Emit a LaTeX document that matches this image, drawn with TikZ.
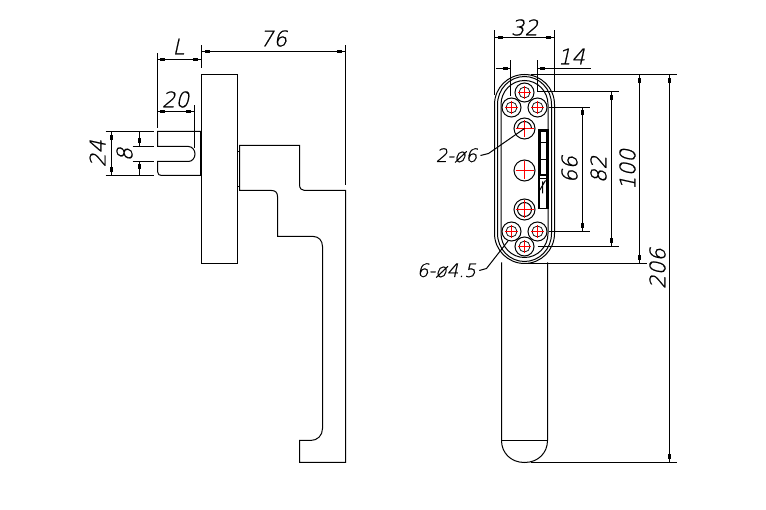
\documentclass[tikz,border=0pt]{standalone}
\usepackage{fontspec}
\newfontface\dimfont{DejaVu Sans ExtraLight}[FakeSlant=0.22,FakeBold=0.8]
\tikzset{
  ln/.style={draw=black,line width=1pt},
  thin ln/.style={draw=black,line width=1pt},
  dimtxt/.style={font=\fontsize{21.5}{22}\dimfont,inner sep=0pt},
  lbl/.style={font=\fontsize{18.5}{18.5}\dimfont,inner sep=0pt},
  redx/.style={draw=red,line width=1pt},
  hole/.style={draw=black,line width=1pt,circle,inner sep=0pt,fill=white},
  tick/.style={fill=black,inner sep=0pt,minimum width=3pt,minimum height=5pt,draw=none},
  tickh/.style={fill=black,inner sep=0pt,minimum width=5pt,minimum height=3pt,draw=none}
}
\begin{document}
\begin{tikzpicture}[x=1pt,y=-1pt]
\useasboundingbox (0,0) rectangle (766,510);
\fill[white] (0,0) rectangle (766,510);
\begin{scope}[shift={(0.5,0.5)}]
% --- left view
\draw[ln] (201,74) rectangle (237,263);
\draw[ln] (239,145) -- (299,145) -- (299,184) .. controls (299,188) and (301,190) .. (304,190) -- (345,190) -- (345,462) -- (299,462) -- (299,440) -- (310,440) .. controls (317,440) and (322,435) .. (322,428) -- (322,246) .. controls (322,240) and (318,236) .. (313,236) -- (277,236) -- (277,196) .. controls (277,192) and (275,190) .. (271,190) -- (239,190) -- cycle;
\draw[ln] (237,151) -- (239,151) (237,186) -- (239,186);
\draw[ln] (201,131) -- (157,131) -- (157,146) -- (188,146) .. controls (192,146) and (194.5,150) .. (194.5,153.5) .. controls (194.5,157) and (192,161) .. (188,161) -- (157,161) -- (157,171) .. controls (157,174) and (159,175) .. (161,175) -- (201,175);
\draw[draw=black,line width=1.6pt] (200.5,131) -- (200.5,175);
% left dimensions
\draw[thin ln] (105,131) -- (153,131) (105,175) -- (153,175);
\draw[thin ln] (132,146) -- (153,146) (132,161) -- (153,161);
\draw[thin ln] (111,131) -- (111,175);
\draw[thin ln] (139,131) -- (139,146) (139,161) -- (139,175);
\draw[thin ln] (157,53) -- (157,128);
\draw[thin ln] (201,45) -- (201,68);
\draw[thin ln] (157,59) -- (201,59);
\draw[thin ln] (157,111) -- (194,111);
\draw[thin ln] (194,105) -- (194,148);
\draw[thin ln] (201,51) -- (345,51);
\draw[thin ln] (345,45) -- (345,185);
\foreach \p in {(162,59),(195,59),(162,111),(188,111),(207,51),(339,51)} \node[tickh] at \p {};
\foreach \p in {(111,137),(111,169),(139,140),(139,166)} \node[tick] at \p {};
\node[dimtxt] (tL) at (178,46) {L};
\node[dimtxt] (t76) at (273,38) {76};
\node[dimtxt] (t20) at (175,99) {20};
\node[dimtxt,rotate=90] (t24) at (97,153) {24};
\node[dimtxt,rotate=90] (t8) at (124,154) {8};
% --- right view: handle
\draw[ln] (501,262) -- (501,440) .. controls (501,452) and (510,462) .. (524,462) .. controls (538,462) and (547,452) .. (547,440) -- (547,262);
\draw[ln] (501,440) -- (547,440);
% rose
\draw[ln,fill=white] (494,104) arc[start angle=180,end angle=360,x radius=30,y radius=30] -- (554,233) arc[start angle=0,end angle=180,x radius=30,y radius=30] -- cycle;
\draw[thin ln] (497,104) arc[start angle=180,end angle=360,x radius=27,y radius=28] -- (551,233) arc[start angle=0,end angle=180,x radius=27,y radius=28] -- cycle;
\draw[thin ln] (500.5,104) arc[start angle=180,end angle=360,x radius=23.5,y radius=24] -- (547.5,233) arc[start angle=0,end angle=180,x radius=23.5,y radius=24] -- cycle;
% slot
\fill[black] (537,129) rectangle (548,176);
\fill[white] (540,132) rectangle (545.5,174);
\draw[thin ln] (540,142.5) -- (545.5,142.5) (540,159) -- (545.5,159);
\fill[white] (538,176) rectangle (547,208);
\fill[black] (537,176) rectangle (539.5,208);
\fill[black] (545.5,176) rectangle (548,208);
\draw[thin ln] (537,208) -- (548,208) (539,178) -- (546,178);
\draw[thin ln] (539,190) -- (545,180) (542,181) -- (542,193);
% holes
\foreach \n/\x/\y in {a/524/92,b/511/107,c/537/107,d/511/231,e/537/231,f/524/246}{
  \node[hole,minimum size=19pt] (h\n) at (\x,\y) {};
  \draw[draw=black,line width=0.7pt] (\x,\y) circle[radius=5.5];
  \draw[redx] (\x-6.5,\y) -- (\x+6.5,\y) (\x,\y-6.5) -- (\x,\y+6.5);
}
\node[hole,minimum size=21pt] (g) at (524,128) {};
\draw[thin ln] (517,128) arc[start angle=180,end angle=360,radius=7];
\draw[redx] (515,128) -- (533,128) (524,120) -- (524,137);
\node[hole,minimum size=21pt] (m) at (524,170) {};
\draw[redx] (515,170) -- (533,170) (524,161) -- (524,179);
\node[hole,minimum size=21pt] (k) at (524,209) {};
\draw[thin ln] (524,209) circle[radius=7];
\draw[redx] (515,209) -- (533,209) (524,200) -- (524,218);
% right dimensions
\draw[thin ln] (494,30) -- (494,95) (554,30) -- (554,92);
\draw[thin ln] (494,37) -- (554,37);
\draw[thin ln] (510,60) -- (510,96) (537,60) -- (537,92);
\draw[thin ln] (495,68) -- (510,68) (537,68) -- (590,68);
\draw[thin ln] (530,74) -- (676,74);
\draw[thin ln] (537,91.5) -- (618,91.5);
\draw[thin ln] (548,107) -- (589,107);
\draw[thin ln] (548,231) -- (589,231);
\draw[thin ln] (537,246) -- (618,246);
\draw[thin ln] (520,263) -- (646,263);
\draw[thin ln] (530,462) -- (676,462);
\draw[thin ln] (582,107) -- (582,231);
\draw[thin ln] (611,91.5) -- (611,246);
\draw[thin ln] (639,74) -- (639,263);
\draw[thin ln] (669,74) -- (669,462);
\foreach \p in {(500,37),(548,37),(505,68),(542,68)} \node[tickh] at \p {};
\foreach \p in {(582,112),(582,225),(611,97),(611,240),(639,80),(639,257),(669,80),(669,456)} \node[tick] at \p {};
\node[dimtxt] (t32) at (524,27) {32};
\node[dimtxt] (t14) at (571,56) {14};
\node[dimtxt,rotate=90] (t66) at (569,169) {66};
\node[dimtxt,rotate=90] (t82) at (598,169) {82};
\node[dimtxt,rotate=90] (t100) at (627,169) {100};
\node[dimtxt,rotate=90] (t206) at (657,268) {206};
\node[lbl] (t2) at (456,155) {2-ø6};
\node[lbl] (t6) at (446,270) {6-ø4.5};
\coordinate (l1) at (488,153);
\coordinate (l2) at (486,268);
\draw[thin ln] (t2.east) ++(3,0) -- (l1) -- (g.center);
\draw[thin ln] (t6.east) ++(3,0) -- (l2) -- (hd.250);
\end{scope}
\end{tikzpicture}
\end{document}
